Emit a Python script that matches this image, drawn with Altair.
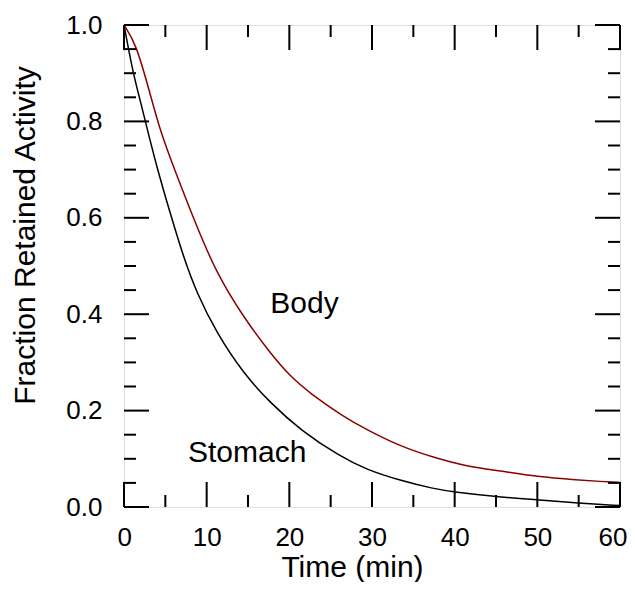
import altair as alt
import pandas as pd

# ---- data ----
body_t = [0, 1.45, 3.15, 4.35, 5.97, 8.79, 11.2, 14.4, 17.7, 20.1, 22.5, 26.5, 29.4, 33.4, 37.4, 41.5,
          45.5, 49.9, 55, 57.6, 60]
body_v = [1.0, 0.962, 0.858, 0.782, 0.706, 0.582, 0.485, 0.395, 0.319, 0.271, 0.236, 0.188, 0.160, 0.126,
          0.103, 0.084, 0.075, 0.063, 0.056, 0.053, 0.051]

stomach_t = [0, 1.1, 1.94, 2.54, 3.95, 5.65, 7.17, 8.79, 11.2, 14.4, 17.7, 21.3, 26.1, 29.4, 33.4, 37.4,
             40, 44.7, 49.9, 55, 60]
stomach_v = [1.0, 0.90, 0.845, 0.803, 0.706, 0.606, 0.520, 0.444, 0.361, 0.278, 0.216, 0.160, 0.105, 0.077,
             0.055, 0.038, 0.031, 0.022, 0.015, 0.008, 0.003]

series_names = ["Body", "Stomach"]
series_colors = ["#8b0000", "#000000"]

label_text = ["Body", "Stomach"]
label_t = [17.7, 7.74]
label_v = [0.402, 0.093]

x_major = [0, 10, 20, 30, 40, 50, 60]
x_minor = [5, 15, 25, 35, 45, 55]
y_major = [0.0, 0.2, 0.4, 0.6, 0.8, 1.0]
y_minor = [0.05, 0.10, 0.15, 0.25, 0.30, 0.35, 0.45, 0.50, 0.55, 0.65, 0.70, 0.75, 0.85, 0.90, 0.95]

# ---- tables ----
lines_df = pd.DataFrame(
    {"t": body_t + stomach_t,
     "v": body_v + stomach_v,
     "series": ["Body"] * len(body_t) + ["Stomach"] * len(stomach_t)}
)
labels_df = pd.DataFrame({"t": label_t, "v": label_v, "text": label_text})
xmaj_df = pd.DataFrame({"t": x_major})
xmin_df = pd.DataFrame({"t": x_minor})
ymaj_df = pd.DataFrame({"v": y_major})
ymin_df = pd.DataFrame({"v": y_minor})

W, H = 496, 482
FONT = "Liberation Sans"
BIG = 30
SMALL = 26
MAJ, MIN = 25, 12

xscale = alt.Scale(domain=[0, 60], nice=False, zero=False)
yscale = alt.Scale(domain=[0, 1], nice=False, zero=False)

x_axis = alt.Axis(values=x_major, format="d", ticks=False, tickSize=0, domain=False, grid=False,
                  labelFont=FONT, labelFontSize=SMALL, labelColor="black", labelPadding=17,
                  labelFlush=True, labelFlushOffset=7,
                  title="Time (min)", titleFont=FONT, titleFontSize=BIG, titleFontWeight="normal",
                  titleColor="black", titleX=228, titleY=69, titleAlign="center",
                  titleBaseline="alphabetic")
y_axis = alt.Axis(values=y_major, format=".1f", ticks=False, tickSize=0, domain=False, grid=False,
                  labelFont=FONT, labelFontSize=SMALL, labelColor="black", labelPadding=22,
                  title="Fraction Retained Activity", titleFont=FONT, titleFontSize=BIG,
                  titleFontWeight="normal", titleColor="black", titleX=-90, titleY=210,
                  titleAngle=270, titleAlign="center", titleBaseline="alphabetic", labelFlush=False)

lines = alt.Chart(lines_df).mark_line(strokeWidth=1.5, clip=True, interpolate="basis").encode(
    x=alt.X("t:Q", scale=xscale, axis=x_axis),
    y=alt.Y("v:Q", scale=yscale, axis=y_axis),
    color=alt.Color("series:N", scale=alt.Scale(domain=series_names, range=series_colors), legend=None),
    detail="series:N",
)

texts = alt.Chart(labels_df).mark_text(font=FONT, fontSize=BIG, align="left", baseline="alphabetic",
                                       color="black").encode(
    x=alt.X("t:Q", scale=xscale),
    y=alt.Y("v:Q", scale=yscale),
    text="text:N",
)

def xticks(df, length):
    bottom = alt.Chart(df).mark_rule(color="black", strokeWidth=2).encode(
        x=alt.X("t:Q", scale=xscale), y=alt.value(H), y2=alt.value(H - length))
    top = alt.Chart(df).mark_rule(color="black", strokeWidth=2).encode(
        x=alt.X("t:Q", scale=xscale), y=alt.value(0), y2=alt.value(length))
    return bottom + top

def yticks(df, length):
    left = alt.Chart(df).mark_rule(color="black", strokeWidth=2).encode(
        y=alt.Y("v:Q", scale=yscale), x=alt.value(0), x2=alt.value(length))
    right = alt.Chart(df).mark_rule(color="black", strokeWidth=2).encode(
        y=alt.Y("v:Q", scale=yscale), x=alt.value(W), x2=alt.value(W - length))
    return left + right

chart = alt.layer(
    lines,
    texts,
    xticks(xmaj_df, MAJ),
    xticks(xmin_df, MIN),
    yticks(ymaj_df, MAJ),
    yticks(ymin_df, MIN),
).properties(
    width=W,
    height=H,
    autosize=alt.AutoSizeParams(type="none"),
    padding={"left": 116, "top": 17, "right": 7, "bottom": 75},
).configure_view(
    stroke="black", strokeWidth=2
).configure(background="white")

chart.save("out.html", embed_options={"renderer": "svg", "actions": False})
